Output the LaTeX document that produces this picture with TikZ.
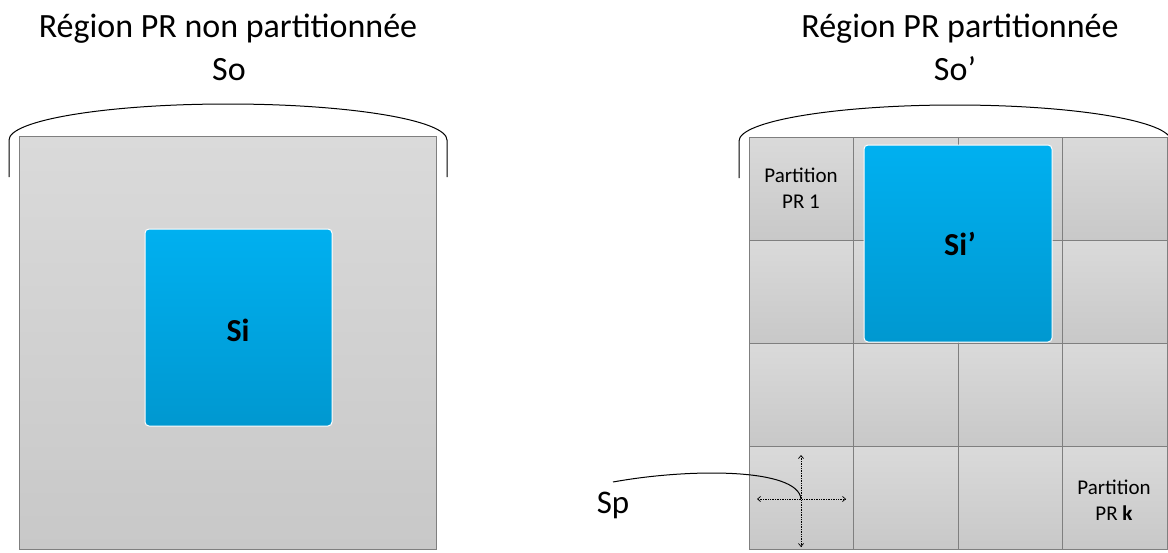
\documentclass[tikz,border=0pt]{standalone}
\usepackage{fontspec}
\setmainfont{Carlito}
\usetikzlibrary{arrows.meta}
\definecolor{cellTop}{HTML}{DADADA}
\definecolor{cellBot}{HTML}{C8C8C8}
\definecolor{siTop}{HTML}{00B0F0}
\definecolor{siBot}{HTML}{0098D0}
\definecolor{gridLine}{HTML}{7F7F7F}
\tikzset{
  cellbox/.style={draw=gridLine, line width=1pt, top color=cellTop, bottom color=cellBot, inner sep=0pt, minimum width=104.5pt, minimum height=103pt},
  sibox/.style={draw=white, line width=1pt, rounded corners=4pt, top color=siTop, bottom color=siBot, inner sep=0pt},
  title/.style={font=\fontsize{34}{36}\selectfont, inner sep=0pt, anchor=base},
  silabel/.style={font=\fontsize{32}{34}\selectfont\bfseries, inner sep=0pt, anchor=base},
  celltext/.style={font=\fontsize{21}{26}\selectfont, align=center, inner sep=0pt, anchor=base},
  brace/.style={line width=1pt, black},
  axis/.style={densely dotted, line width=0.7pt, {Straight Barb[length=3pt,width=5pt]}-{Straight Barb[length=3pt,width=5pt]}}
}
\begin{document}
\begin{tikzpicture}[x=1pt,y=-1pt]
\useasboundingbox (0,0) rectangle (1168,552);
% Left region
\node[title] (t1) at (228,37) {Région PR non partitionnée};
\node[title] (so) at (229,80) {So};
\node[draw=gridLine, line width=1pt, top color=cellTop, bottom color=cellBot, inner sep=0pt, minimum width=417pt, minimum height=413pt] (left) at (227.5,343) {};
\node[sibox, minimum width=187pt, minimum height=197pt] (si) at (238.5,327.5) {};
\node[silabel] (silab) at (238,341) {Si};
\draw[brace] (9,177) -- (9,140) arc[start angle=180, end angle=360, x radius=219, y radius=36] -- (447,177);
% Right region
\node[title] (t2) at (960,37) {Région PR partitionnée};
\node[title] (so2) at (955,80) {So’};
\foreach \c in {0,1,2,3}{
  \foreach \r in {0,1,2,3}{
    \node[cellbox] (c\c\r) at ({749+52.25+104.5*\c},{137+51.5+103*\r}) {};
  }
}
\node[sibox, minimum width=188pt, minimum height=197pt] (si2) at (958,243.5) {};
\node[silabel] (si2lab) at (960,255) {Si’};
\node[celltext] (p1) at (801,208) {Partition\\PR 1};
\node[celltext] (pk) at (1114,520) {Partition\\PR \textbf{k}};
\draw[brace] (739,178) -- (739,141) arc[start angle=180, end angle=360, x radius=216, y radius=36] -- (1171,178);
% Sp
\coordinate (ax) at (801,499);
\coordinate (axl) at (757,499);
\coordinate (axr) at (846,499);
\coordinate (axt) at (801,455);
\coordinate (axb) at (801,547);
\draw[axis] (axl) -- (axr);
\draw[axis] (axt) -- (axb);
\node[font=\fontsize{33}{35}\selectfont, inner sep=0pt, anchor=base] (sp) at (613,513) {Sp};
\coordinate (spstart) at (613,482);
\draw[line width=1pt] (spstart) .. controls (690,468) and (798,468) .. (ax);
\end{tikzpicture}
\end{document}
